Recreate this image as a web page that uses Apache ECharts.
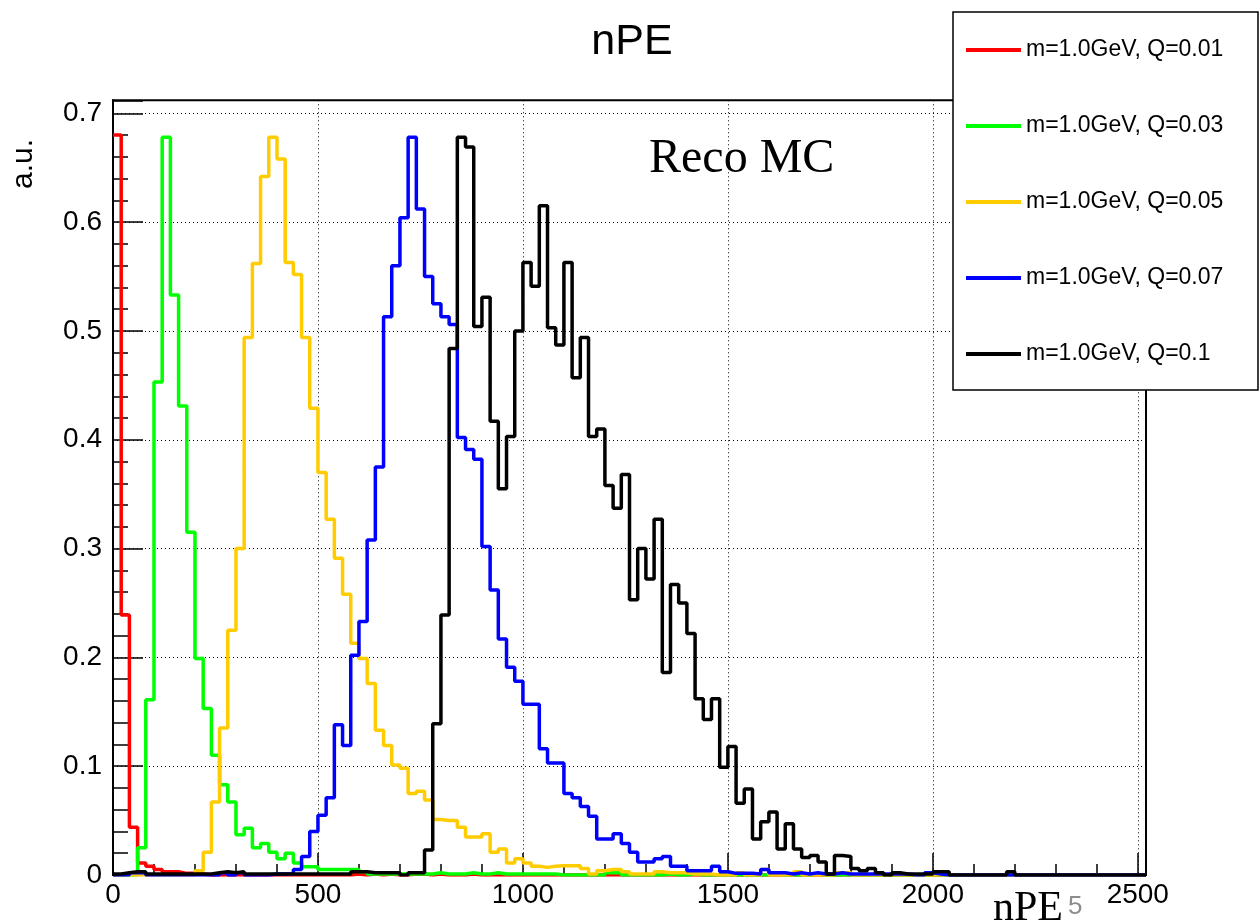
<!DOCTYPE html>
<html>
<head>
<meta charset="utf-8">
<script src="https://cdn.jsdelivr.net/npm/echarts@6/dist/echarts.min.js"></script>
<style>
  html, body { margin: 0; padding: 0; background: #fff; }
  #chart { width: 1259px; height: 924px; }
</style>
</head>
<body>
<div id="chart"></div>
<script>
// ---- histogram binning (nPE) ----
const binWidth = 20;
const nBins = 126;          // 0 .. 2520
const xMax = 2520;
const yMax = 0.712;

// ---- series names ----
const seriesNames = [
  'm=1.0GeV, Q=0.01',
  'm=1.0GeV, Q=0.03',
  'm=1.0GeV, Q=0.05',
  'm=1.0GeV, Q=0.07',
  'm=1.0GeV, Q=0.1'
];

// ---- bin contents (bin i covers [20*i, 20*i+20)), bins not listed are 0 ----
const q001 = [0.68, 0.239, 0.044, 0.011, 0.008, 0.005, 0.003, 0.003, 0.0015, 0.0015,
  0.001, 0, 0, 0, 0, 0, 0, 0, 0, 0,
  0, 0, 0, 0, 0, 0, 0, 0, 0, 0.001,
  0, 0.001, 0, 0.001, 0, 0, 0.001, 0.001, 0, 0.001,
  0, 0, 0, 0.001];

const q003 = [0, 0, 0, 0.025, 0.161, 0.453, 0.678, 0.533, 0.431, 0.315,
  0.199, 0.153, 0.110, 0.083, 0.067, 0.037, 0.043, 0.025, 0.029, 0.021,
  0.015, 0.020, 0.011, 0.0075, 0.0075, 0.005, 0.005, 0.005, 0.005, 0.005,
  0.003, 0.001, 0.001, 0.001, 0.001, 0.001, 0.001, 0.001, 0.001, 0.002,
  0.001, 0.001, 0.001, 0.002, 0.001, 0.001, 0.002, 0.001, 0.001, 0.001,
  0.001, 0.001, 0.001, 0.001, 0, 0, 0, 0, 0, 0,
  0.002, 0.002, 0, 0, 0, 0, 0, 0.001, 0, 0,
  0.001, 0, 0, 0, 0, 0, 0, 0, 0, 0,
  0.001, 0, 0, 0, 0, 0.001];

const q005 = [0, 0, 0, 0, 0, 0, 0, 0, 0, 0,
  0.004, 0.021, 0.067, 0.135, 0.225, 0.300, 0.494, 0.562, 0.642, 0.678,
  0.658, 0.563, 0.552, 0.494, 0.429, 0.370, 0.327, 0.291, 0.258, 0.213,
  0.199, 0.176, 0.133, 0.119, 0.101, 0.098, 0.075, 0.077, 0.069, 0.051,
  0.050, 0.050, 0.044, 0.035, 0.035, 0.038, 0.021, 0.024, 0.011, 0.015,
  0.011, 0.008, 0.007, 0.008, 0.0085, 0.0085, 0.0085, 0.006, 0.001, 0.004,
  0.005, 0.005, 0.003, 0.001, 0.001, 0.001, 0.003, 0.002, 0.002, 0.002,
  0.001, 0.001, 0.001, 0, 0, 0, 0.002, 0, 0, 0.005,
  0, 0, 0, 0.003, 0, 0, 0, 0, 0.002, 0.002];

const q007 = [0, 0, 0.002, 0.002, 0, 0, 0, 0, 0, 0,
  0, 0, 0, 0.002, 0, 0.002, 0, 0, 0, 0.001,
  0.001, 0.001, 0.005, 0.017, 0.040, 0.055, 0.071, 0.138, 0.119, 0.202,
  0.233, 0.308, 0.375, 0.513, 0.560, 0.604, 0.678, 0.612, 0.550, 0.525,
  0.513, 0.506, 0.402, 0.391, 0.382, 0.302, 0.262, 0.217, 0.191, 0.178,
  0.157, 0.157, 0.116, 0.103, 0.103, 0.075, 0.071, 0.063, 0.054, 0.033,
  0.033, 0.038, 0.029, 0.021, 0.012, 0.012, 0.015, 0.017, 0.008, 0.008,
  0.004, 0.004, 0.004, 0.008, 0.003, 0.0015, 0.0015, 0.0015, 0.001, 0.005,
  0.002, 0.002, 0.001, 0.002, 0.001, 0.002, 0.001, 0.001, 0.002, 0.001,
  0.001, 0.001, 0.001, 0.001, 0.001, 0.001, 0.001, 0, 0, 0.002,
  0.001];

const q010 = [0.001, 0.002, 0.003, 0.003, 0.001, 0.001, 0.001, 0.001, 0.001, 0.001,
  0.001, 0.001, 0.002, 0.003, 0.002, 0.003, 0.001, 0.001, 0.001, 0.001,
  0.001, 0.001, 0.001, 0.001, 0.001, 0.001, 0.001, 0.001, 0.001, 0.003,
  0.003, 0.002, 0.002, 0.002, 0.002, 0, 0.002, 0.002, 0.023, 0.139,
  0.239, 0.484, 0.678, 0.669, 0.504, 0.531, 0.417, 0.355, 0.403, 0.500,
  0.563, 0.541, 0.615, 0.503, 0.487, 0.563, 0.457, 0.494, 0.403, 0.410,
  0.358, 0.337, 0.368, 0.253, 0.300, 0.272, 0.327, 0.186, 0.267, 0.250,
  0.222, 0.162, 0.143, 0.162, 0.099, 0.118, 0.066, 0.079, 0.033, 0.049,
  0.058, 0.024, 0.047, 0.024, 0.016, 0.018, 0.012, 0.001, 0.018, 0.017,
  0.006, 0.004, 0.006, 0.002, 0, 0.002, 0.001, 0.001, 0.001, 0.001,
  0.003, 0.003, 0, 0, 0, 0, 0, 0, 0, 0.003];

const seriesValues = [q001, q003, q005, q007, q010];
const seriesColors = ['#ff0000', '#00ff00', '#ffcc00', '#0000ff', '#000000'];

// ---- tick labels ----
const xTickLabels = ['0', '500', '1000', '1500', '2000', '2500'];
const yTickLabels = ['0', '0.1', '0.2', '0.3', '0.4', '0.5', '0.6', '0.7'];

function histPoints(vals) {
  const pts = [];
  for (let i = 0; i < nBins; i++) {
    pts.push([i * binWidth, i < vals.length ? vals[i] : 0]);
  }
  pts.push([nBins * binWidth, pts[pts.length - 1][1]]);
  return pts;
}

const SANS = '"Liberation Sans", Arial, Helvetica, sans-serif';
const SERIF = '"Liberation Serif", "Times New Roman", serif';

const gridBox = { left: 113, right: 113, top: 100.3, bottom: 49 };

const chart = echarts.init(document.getElementById('chart'), null, { renderer: 'canvas' });

const option = {
  animation: false,
  backgroundColor: '#ffffff',
  title: {
    text: 'nPE',
    left: 627, top: 16, textAlign: 'center',
    textStyle: { fontFamily: SANS, fontSize: 43, fontWeight: 'normal', color: '#000' }
  },
  grid: Object.assign({ show: true, borderColor: '#000', borderWidth: 2, backgroundColor: 'transparent', containLabel: false }, gridBox),
  xAxis: [
    {
      type: 'value', min: 0, max: xMax, interval: 500, position: 'bottom',
      axisLine: { show: true, onZero: false, lineStyle: { color: '#000', width: 2 } },
      axisTick: { show: true, inside: true, length: 22, lineStyle: { color: '#000', width: 1.5 } },
      axisLabel: {
        show: true, margin: 6, color: '#000', fontFamily: SANS, fontSize: 28,
        formatter: function (v) { const k = Math.round(v / 500); return Math.abs(v - k * 500) < 1e-6 && xTickLabels[k] !== undefined ? xTickLabels[k] : ''; }
      },
      splitLine: { show: true, lineStyle: { color: '#000', width: 1, type: [1, 3] } }
    },
    {
      type: 'value', min: 0, max: xMax, interval: 100, position: 'bottom', offset: 0,
      axisLine: { show: false },
      axisTick: { show: true, inside: true, length: 11, lineStyle: { color: '#000', width: 1.5 } },
      axisLabel: { show: false },
      splitLine: { show: false }
    }
  ],
  yAxis: [
    {
      type: 'value', min: 0, max: yMax, interval: 0.1, position: 'left',
      axisLine: { show: true, onZero: false, lineStyle: { color: '#000', width: 2 } },
      axisTick: { show: true, inside: true, length: 30, lineStyle: { color: '#000', width: 1.5 } },
      axisLabel: {
        show: true, margin: 11, color: '#000', fontFamily: SANS, fontSize: 28,
        formatter: function (v) { const k = Math.round(v * 10); return Math.abs(v * 10 - k) < 1e-6 && yTickLabels[k] !== undefined ? yTickLabels[k] : ''; }
      },
      splitLine: { show: true, lineStyle: { color: '#000', width: 1, type: [1, 3] } }
    },
    {
      type: 'value', min: 0, max: yMax, interval: 0.02, position: 'left', offset: 0,
      axisLine: { show: false },
      axisTick: { show: true, inside: true, length: 15, lineStyle: { color: '#000', width: 1.5 } },
      axisLabel: { show: false },
      splitLine: { show: false }
    }
  ],
  legend: {
    show: true, orient: 'vertical', left: 966, top: 38, padding: 0,
    itemWidth: 55, itemHeight: 4, itemGap: 52, icon: 'rect', z: 100,
    textStyle: { fontFamily: SANS, fontSize: 23, lineHeight: 24, color: '#000' },
    data: seriesNames
  },
  series: seriesNames.map(function (name, k) {
    return {
      name: name, type: 'line', step: 'end', xAxisIndex: 0, yAxisIndex: 0,
      data: histPoints(seriesValues[k]),
      showSymbol: false, symbol: 'none',
      color: seriesColors[k],
      itemStyle: { color: seriesColors[k] },
      lineStyle: { color: seriesColors[k], width: 3.5 },
      z: 2 + k * 0.01
    };
  }),
  graphic: [
    { type: 'rect', z: 50, shape: { x: 953, y: 12, width: 305, height: 378 },
      style: { fill: '#fff', stroke: '#000', lineWidth: 1.5 } },
    { type: 'text', z: 60, x: 24, y: 164, rotation: Math.PI / 2,
      style: { text: 'a.u.', fontFamily: SANS, fontSize: 30, fill: '#000', align: 'center', verticalAlign: 'middle' } },
    { type: 'text', z: 60, x: 649, y: 135,
      style: { text: 'Reco MC', fontFamily: SERIF, fontSize: 48, fill: '#000', align: 'left', verticalAlign: 'top' } },
    { type: 'text', z: 60, x: 993, y: 888,
      style: { text: 'nPE', fontFamily: SERIF, fontSize: 42, fill: '#000', align: 'left', verticalAlign: 'top' } },
    { type: 'text', z: 60, x: 1068, y: 894,
      style: { text: '5', fontFamily: SANS, fontSize: 26, fill: '#8c8c8c', align: 'left', verticalAlign: 'top' } }
  ]
};

chart.setOption(option);
</script>
</body>
</html>
